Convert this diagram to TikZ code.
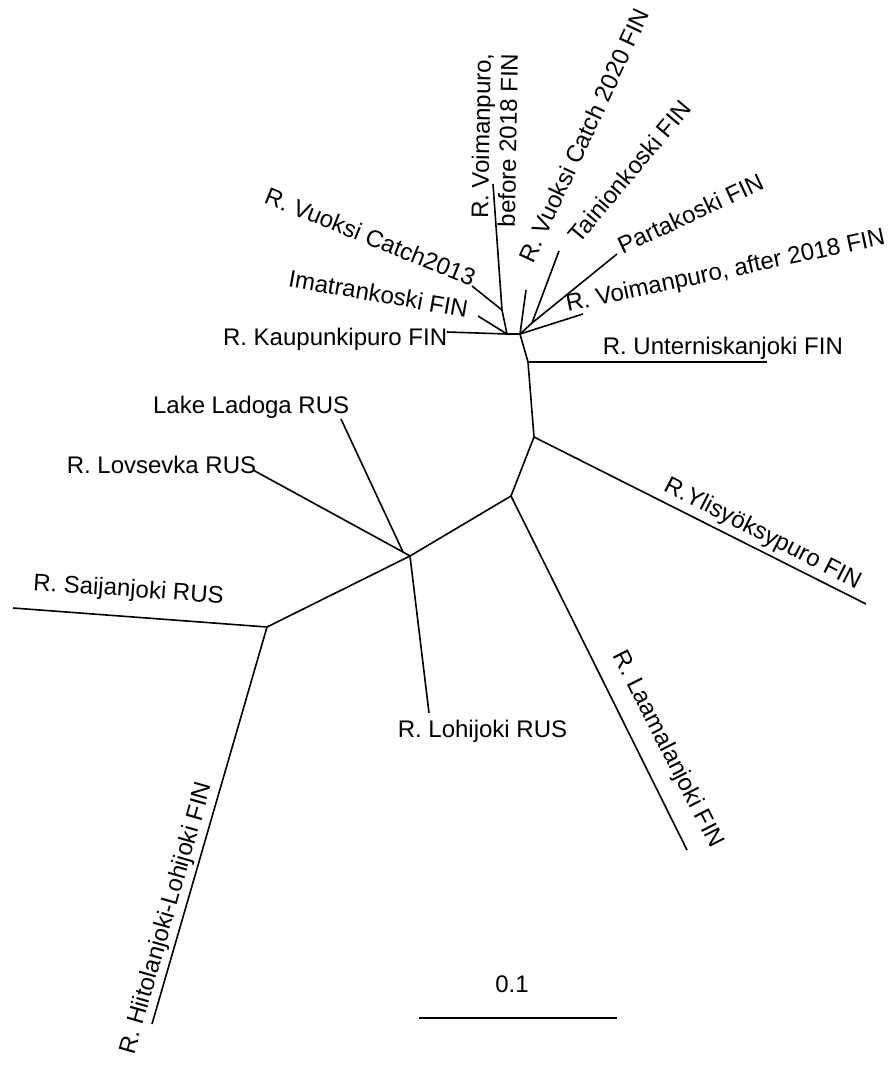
\documentclass[tikz,border=0pt]{standalone}
\usepackage{fontspec}
\setmainfont{Liberation Sans}

\begin{document}
\begin{tikzpicture}[x=1pt,y=-1pt,line width=1.6pt]
\tikzstyle{every node}=[inner sep=0pt, font=\fontsize{24}{27}\selectfont]
\tikzstyle{pt}=[coordinate]
\useasboundingbox (0,0) rectangle (888,1066);
% inner nodes
\draw (507,334) node (a) [pt] {};
\draw (502,310) node (b) [pt] {};
\draw (520,334) node (c) [pt] {};
\draw (532,323) node (d) [pt] {};
\draw (528,362) node (e) [pt] {};
\draw (534,437) node (f) [pt] {};
\draw (511,496) node (g) [pt] {};
\draw (410,556) node (h2) [pt] {};
\draw (403,552) node (h1) [pt] {};
\draw (267,627) node (i) [pt] {};
% leaves
\draw (447,332) node (kaup) [pt] {};
\draw (478,316) node (imat) [pt] {};
\draw (472,286) node (vc13) [pt] {};
\draw (493,184) node (voib) [pt] {};
\draw (526,290) node (vc20) [pt] {};
\draw (583,314) node (voia) [pt] {};
\draw (559,251) node (tain) [pt] {};
\draw (617,254) node (part) [pt] {};
\draw (767,362) node (unte) [pt] {};
\draw (866,604) node (ylis) [pt] {};
\draw (687,850) node (laam) [pt] {};
\draw (341,419) node (lado) [pt] {};
\draw (253,470) node (lovs) [pt] {};
\draw (429,713) node (lohi) [pt] {};
\draw (13,608) node (saij) [pt] {};
\draw (152,1024) node (hiit) [pt] {};
% labels
\draw (448,345) node (tkaup) [anchor=base east] {R. Kaupunkipuro FIN};
\draw (467,318) node (timat) [anchor=base east,rotate=-10] {Imatrankoski FIN};
\draw (472,287) node (tvc13) [anchor=base east,rotate=-22] {R. Vuoksi Catch2013};
\draw (519,53) node (tvoib) [anchor=south east,rotate=89,align=right] {R. Voimanpuro,\\before 2018 FIN};
\draw (533,265) node (tvc20) [anchor=base west,rotate=65] {R. Vuoksi Catch 2020 FIN};
\draw (579,245) node (ttain) [anchor=base west,rotate=50] {Tainionkoski FIN};
\draw (622,255) node (tpart) [anchor=base west,rotate=25] {Partakoski FIN};
\draw (567,312) node (tvoia) [anchor=base west,rotate=12] {R. Voimanpuro, after 2018 FIN};
\draw (602,354) node (tunte) [anchor=base west] {R. Unterniskanjoki FIN};
\draw (662,490) node (tylis) [anchor=base west,rotate=-27] {R.Ylisyöksypuro FIN};
\draw (612,655) node (tlaam) [anchor=base west,rotate=-63] {R. Laamalanjoki FIN};
\draw (350,413) node (tlado) [anchor=base east] {Lake Ladoga RUS};
\draw (257,473) node (tlovs) [anchor=base east] {R. Lovsevka RUS};
\draw (397,737) node (tlohi) [anchor=base west] {R. Lohijoki RUS};
\draw (32,590) node (tsaij) [anchor=base west,rotate=-4] {R. Saijanjoki RUS};
\draw (212,784) node (thiit) [anchor=base east,rotate=74] {R. Hiitolanjoki-Lohijoki FIN};
% branches
\draw (a) -- (kaup);
\draw (a) -- (imat);
\draw (a) -- (b);
\draw (b) -- (vc13);
\draw (b) -- (voib);
\draw (a) -- (c);
\draw (c) -- (vc20);
\draw (c) -- (voia);
\draw (c) -- (d);
\draw (d) -- (tain);
\draw (d) -- (part);
\draw (c) -- (e);
\draw (e) -- (unte);
\draw (e) -- (f);
\draw (f) -- (ylis);
\draw (f) -- (g);
\draw (g) -- (laam);
\draw (g) -- (h2);
\draw (h2) -- (h1);
\draw (h1) -- (lado);
\draw (h1) -- (lovs);
\draw (h2) -- (lohi);
\draw (h2) -- (i);
\draw (i) -- (saij);
\draw (i) -- (hiit);
% scale bar
\draw (419,1018) node (sb1) [pt] {};
\draw (617,1018) node (sb2) [pt] {};
\draw (sb1) -- (sb2);
\draw (512,984) node (tsb) {0.1};
\end{tikzpicture}
\end{document}
